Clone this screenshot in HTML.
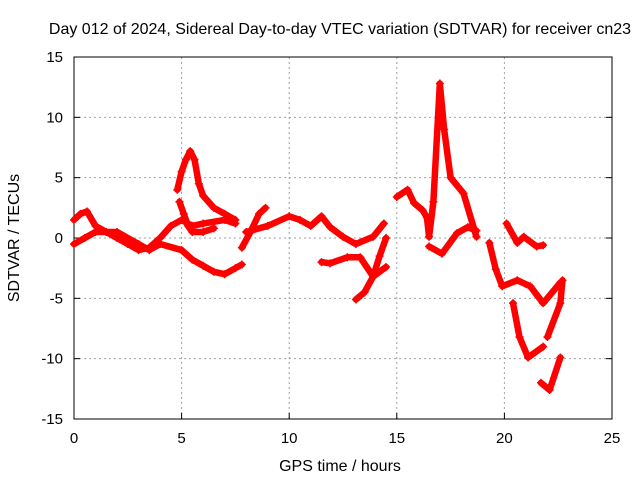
<!DOCTYPE html>
<html><head><meta charset="utf-8"><style>
body{margin:0;background:#fff}
svg text{font-family:"Liberation Sans",sans-serif;font-size:15px;fill:#000}
svg text.big{font-size:16px}
</style></head><body>
<svg id="c" width="640" height="480"></svg>
<script>
const xTicks=[0,5,10,15,20,25];
const yTicks=[-15,-10,-5,0,5,10,15];
const trackA=[[0,1.5],[0.3,2],[0.6,2.2],[1,1],[1.5,0.5],[2,0],[2.5,-0.5],[3,-1],[3.5,-0.8],[4,0],[4.5,1],[5,1.5],[5.5,1],[6,1.2],[7,1.5],[7.5,1.2]];
const trackB=[[0,-0.5],[0.5,0],[1,0.5],[2,0.5],[3,-0.5],[3.5,-1],[4,-0.5],[5,-1],[5.5,-1.8],[6,-2.3],[6.5,-2.8],[7,-3],[7.5,-2.5],[7.8,-2.2]];
const trackC=[[4.8,4],[5,5.5],[5.2,6.5],[5.4,7.2],[5.6,6.5],[5.8,4.5],[6,3.5],[6.5,2.5],[7,2],[7.5,1.5]];
const trackD=[[4.9,3],[5.1,2],[5.3,1],[5.5,0.5],[6,0.5],[6.5,0.8]];
const trackE=[[7.8,-0.8],[8.2,0.5],[8.6,2],[8.9,2.5]];
const trackF=[[8,0.5],[9,1],[10,1.8],[10.5,1.5],[11,1],[11.5,1.8],[11.9,0.9],[12.5,0.1],[13.1,-0.5],[13.9,0.1],[14.4,1.2]];
const trackG=[[11.5,-2],[11.9,-2.1],[12.7,-1.6],[13.3,-1.6],[13.9,-3.2],[14.5,-2.4]];
const trackH=[[13.1,-5.1],[13.5,-4.5],[13.9,-3.2],[14.2,-1.5],[14.5,0]];
const trackI=[[15,3.4],[15.5,4],[15.8,2.9],[16.2,2.3],[16.4,1.7],[16.5,0.1],[16.7,3],[17.0,12.8],[17.2,9],[17.5,5],[18.1,3.7],[18.7,0.1]];
const trackJ=[[16.5,-0.7],[17.1,-1.3],[17.8,0.4],[18.3,0.9],[18.7,0.6]];
const trackK=[[19.3,-0.4],[19.6,-2.6],[19.9,-4],[20.6,-3.5],[21.2,-4],[21.8,-5.4],[22.6,-3.7]];
const trackL=[[20.4,-5.4],[20.7,-8.2],[21.1,-9.9],[21.8,-9]];
const trackM=[[22,-8.2],[22.6,-5.4],[22.7,-3.5]];
const trackN=[[21.7,-12],[22.1,-12.6],[22.6,-9.9]];
const trackO=[[20.1,1.2],[20.6,-0.4],[20.9,0.1],[21.5,-0.7],[21.8,-0.6]];
const tracks=[trackA,trackB,trackC,trackD,trackE,trackF,trackG,trackH,trackI,trackJ,trackK,trackL,trackM,trackN,trackO];
const L=74,R=612,T=57,B=419;
const xs=v=>L+(v-0)/25*(R-L);
const ys=v=>B-(v+15)/30*(B-T);
const svg=document.getElementById('c');
const NS='http://www.w3.org/2000/svg';
function mk(tag,attrs){const e=document.createElementNS(NS,tag);for(const k in attrs)e.setAttribute(k,attrs[k]);svg.appendChild(e);return e;}
xTicks.forEach(t=>{
 if(t>0&&t<25){const g=mk('line',{x1:xs(t),x2:xs(t),y1:T,y2:B,stroke:'#a0a0a0','stroke-dasharray':'2,3'});
 
 }
 const tk=mk('line',{x1:xs(t),x2:xs(t),y1:B,y2:B-6,stroke:'#000'});
 
 
 const tx=mk('text',{x:xs(t),y:B+24,'text-anchor':'middle'});tx.textContent=t;
 
 
});
yTicks.forEach(t=>{
 if(t>-15&&t<15){const g=mk('line',{x1:L,x2:R,y1:ys(t),y2:ys(t),stroke:'#a0a0a0','stroke-dasharray':'2,3'});
 
 }
 const tk=mk('line',{x1:L,x2:L+6,y1:ys(t),y2:ys(t),stroke:'#000'});
 
 
 const tk2=mk('line',{x1:R,x2:R-6,y1:ys(t),y2:ys(t),stroke:'#000'});
 
 
 const tx=mk('text',{x:L-11,y:ys(t)+5,'text-anchor':'end'});tx.textContent=t;
 
 
});
const fr=mk('rect',{x:L,y:T,width:R-L,height:B-T,fill:'none',stroke:'#000'});


tracks.forEach(tr=>{
 const pl=mk('polyline',{points:tr.map(p=>xs(p[0])+','+ys(p[1])).join(' '),fill:'none',stroke:'#ff0000','stroke-width':6.5,'stroke-linejoin':'round','stroke-linecap':'round'});
 
 
 tr.forEach(p=>{
  const x=xs(p[0]),y=ys(p[1]);
  const m=mk('path',{d:`M${x-4},${y}H${x+4}M${x},${y-4}V${y+4}`,stroke:'#ff0000','stroke-width':1.5});
  
  
 });
});
const ti=mk('text',{x:340,y:34,'text-anchor':'middle','class':'big'});ti.textContent='Day 012 of 2024, Sidereal Day-to-day VTEC variation (SDTVAR) for receiver cn23';


const xt=mk('text',{x:340,y:471,'text-anchor':'middle','class':'big'});xt.textContent='GPS time / hours';


const yt=mk('text',{x:0,y:0,'text-anchor':'middle','class':'big',transform:'translate(19,238) rotate(-90)'});yt.textContent='SDTVAR / TECUs';


</script>
</body></html>
